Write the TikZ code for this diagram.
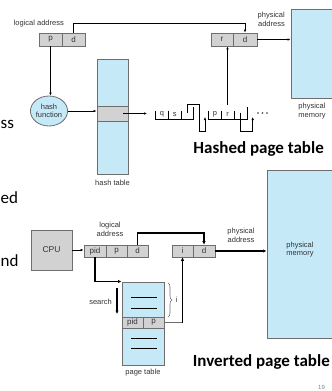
\documentclass[tikz,border=0pt]{standalone}
\usepackage{fontspec}
\setmainfont{Liberation Sans}
\newfontfamily\slidefont{Carlito}
\usetikzlibrary{shapes.geometric,arrows.meta,decorations.pathreplacing}
\definecolor{lblue}{HTML}{C6E9F8}
\definecolor{cellgray}{HTML}{D2D2D2}
\definecolor{edgegray}{HTML}{6E6E6E}
\definecolor{txt}{HTML}{333333}
\begin{document}
\begin{tikzpicture}[x=1pt,y=-1pt,
  lbl/.style={font=\fontsize{7.5}{8.6}\selectfont, text=txt, inner sep=0pt, align=center},
  cell/.style={draw=edgegray, fill=cellgray, line width=0.8pt, minimum height=13pt, inner sep=0pt, font=\fontsize{8}{9}\selectfont, text=txt},
  mem/.style={draw=edgegray, fill=lblue, line width=1pt, inner sep=0pt},
  conn/.style={line width=0.7pt, -{Latex[length=3pt,width=2.6pt]}},
  thickconn/.style={line width=1.5pt, -{Latex[length=3.5pt,width=3.5pt]}},
  chain/.style={line width=0.8pt},
  title/.style={font=\slidefont\bfseries\fontsize{17}{19}\selectfont, inner sep=0pt, anchor=east},
  frag/.style={font=\slidefont\fontsize{17}{20}\selectfont, inner sep=0pt, anchor=base west},
  rowline/.style={line width=0.8pt},
]
\path[use as bounding box] (0,0) rectangle (332,391);

% ---------- Hashed page table ----------
\node[lbl, anchor=east] (la1) at (64,24) {logical address};
\node[cell, minimum width=23pt] (p1) at (50.5,39.5) {p};
\node[cell, minimum width=23pt] (d1) at (73.5,39.5) {d};
\node[cell, minimum width=22pt] (r1) at (222,39.5) {r};
\node[cell, minimum width=24pt] (rd1) at (245,39.5) {d};
\node[mem, minimum width=43pt, minimum height=89pt] (m1) at (312.5,53.5) {};
\node[lbl, anchor=east, align=right] (pa1) at (285,19.5) {physical\\address};
\node[lbl] (pm1) at (312,111) {physical\\memory};

\draw[conn] (d1.north) -- (d1.north |- 0,23) -| (rd1.north);
\draw[conn] (rd1.east) -- (m1.west |- rd1.east);

\node[ellipse, draw=edgegray, fill=lblue, line width=0.8pt, minimum width=36pt, minimum height=30pt, lbl] (hf) at (49,111) {hash\\function};
\draw[conn] (p1.south) -- (p1.south |- hf.north);

\node[mem, minimum width=31pt, minimum height=115pt] (ht) at (112.5,116.5) {};
\node[cell, minimum width=31pt, minimum height=15pt] (hrow) at (112.5,113.5) {};
\node[lbl] (htl) at (112.5,183) {hash table};
\draw[conn] (hf.east) -- (ht.west |- hf.east);

\coordinate (hs) at (123,113.5);
\coordinate (ce) at (147,113.5);
\draw[conn] (hs) -- (ce);

% chain node 1
\draw[chain] (155.5,110.5) -- (155.5,119.3) -- (193,119.3) -- (193,106.7);
\draw[chain] (168.3,110.5) -- (168.3,119.3);
\draw[chain] (181,110.5) -- (181,119.3);
\node[lbl] (cq) at (162,114.5) {q};
\node[lbl] (cs) at (174.7,114.5) {s};
\coordinate (c1a) at (187.5,112.5);
\coordinate (c1b) at (205,117);
\draw[conn] (c1a) -- (187.5,104.5) -- (199.3,104.5) -- (199.3,131.5) -- (205,131.5) -- (c1b);
% chain node 2
\draw[chain] (208.3,110.5) -- (208.3,119.3) -- (247.3,119.3) -- (247.3,106.7);
\draw[chain] (221,110.5) -- (221,119.3);
\draw[chain] (234,110.5) -- (234,119.3);
\node[lbl] (cp) at (215,114.5) {p};
\node[lbl] (cr) at (227.5,114.5) {r};
\coordinate (c2a) at (240.5,112.5);
\coordinate (c2b) at (252.7,117);
\draw[conn] (c2a) -- (240.5,131) -- (252.7,131) -- (c2b);
\coordinate (rup) at (227.5,105);
\draw[conn] (rup) -- (rup |- r1.south);
\foreach \x in {258,262.5,267} \fill[txt] (\x,113) circle (0.9);

\node[title] (t1) at (324,149) {Hashed page table};

% ---------- Inverted page table ----------
\node[draw=edgegray, fill=cellgray, line width=0.8pt, minimum width=41pt, minimum height=40pt, font=\fontsize{8.5}{10}\selectfont, text=txt] (cpu) at (51.5,250) {CPU};
\node[cell, minimum width=22pt, minimum height=12pt] (pid) at (95,251) {pid};
\node[cell, minimum width=21pt, minimum height=12pt] (p2) at (116.5,251) {p};
\node[cell, minimum width=21pt, minimum height=12pt] (d2) at (137.5,251) {d};
\node[lbl] (la2) at (110,229.5) {logical\\address};
\node[cell, minimum width=21pt, minimum height=12pt] (i2) at (182.5,251) {i};
\node[cell, minimum width=22pt, minimum height=12pt] (id2) at (204,251) {d};
\node[mem, minimum width=66pt, minimum height=168pt] (m2) at (300,254) {};
\node[lbl] (pm2) at (300,249.5) {physical\\memory};
\node[lbl] (pa2) at (241,235.5) {physical\\address};

\draw[conn] (cpu.east) -- (cpu.east -| pid.west);
\draw[thickconn] (d2.north) -- (d2.north |- 0,233) -| (id2.north);
\draw[thickconn] (id2.east) -- (m2.west |- id2.east);

\node[mem, minimum width=42pt, minimum height=83pt] (pt) at (143,323.5) {};
\node[cell, minimum width=21pt, minimum height=11pt] (ppid) at (132.5,322.5) {pid};
\node[cell, minimum width=21pt, minimum height=11pt] (pp) at (153.5,322.5) {p};
\draw[rowline] (131,297) -- (157,297);
\draw[rowline] (131,308) -- (157,308);
\draw[rowline] (131,338) -- (157,338);
\draw[rowline] (131,348) -- (157,348);
\node[lbl] (ptl) at (143,373) {page table};

\draw[thickconn] (pid.south) -- (pid.south |- pt.north) -- (pt.north west);
\node[lbl, anchor=east] (srch) at (112,302) {search};
\coordinate (s1) at (117,288);
\coordinate (s2) at (117,314);
\draw[thickconn] (s1) -- (s2);

\draw[decorate, decoration={brace, amplitude=4pt}, draw=edgegray, line width=0.6pt] (168,283) -- (168,317);
\node[lbl] (ilbl) at (176.5,300) {i};

\draw[line width=0.8pt, edgegray] (pp.east) -- (pp.east -| i2.south);
\draw[thickconn] (pp.east -| i2.south) -- (i2.south);

\node[title] (t2) at (330,362) {Inverted page table};

% ---------- slide fragments ----------
\node[frag] (f1) at (0.5,128) {ss};
\node[frag] (f2) at (0.5,203) {ed};
\node[frag] (f3) at (0.5,266) {nd};
\node[font=\fontsize{6}{7}\selectfont, text=gray, inner sep=0pt] (pg) at (321.5,387.5) {19};
\end{tikzpicture}
\end{document}
